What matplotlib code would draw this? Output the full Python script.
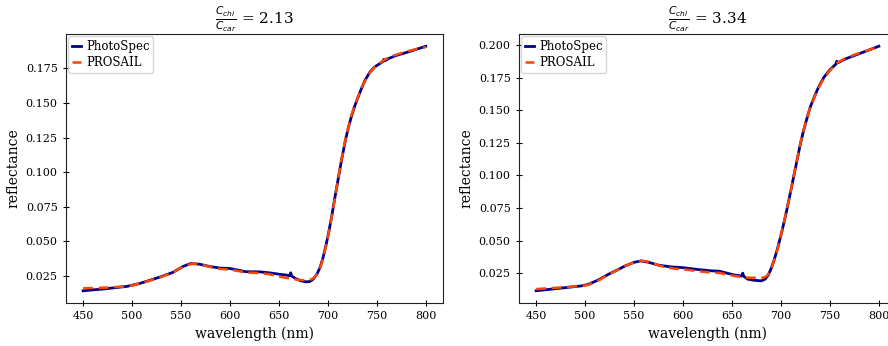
import matplotlib
matplotlib.use("Agg")
import matplotlib.pyplot as plt

plt.rcParams['font.family'] = ['DejaVu Serif']

# left panel, Cchl/Ccar = 2.13
wl_a_photo = [450, 475, 495, 508, 520, 530, 542, 552, 560, 569, 579, 590, 600, 616, 630, 640,
              650, 658, 661, 662, 663, 667, 672, 677, 681, 684, 686, 689, 692, 695, 698, 701,
              704, 707, 711, 714, 718, 721, 724, 727, 731, 734, 738, 743, 748, 754, 756, 757,
              758, 762, 770, 779, 790, 800]
refl_a_photo = [0.0142, 0.0158, 0.0174, 0.0195, 0.0222, 0.0245, 0.0276, 0.0318, 0.0339, 0.0334,
                0.0318, 0.0306, 0.0303, 0.0280, 0.0279, 0.0272, 0.0262, 0.0255, 0.0250, 0.0272,
                0.0248, 0.0231, 0.0215, 0.0207, 0.0208, 0.0220, 0.0235, 0.0265, 0.0310, 0.0380,
                0.0470, 0.0570, 0.0685, 0.0810, 0.0970, 0.1090, 0.1234, 0.1325, 0.1402, 0.1470,
                0.1546, 0.1600, 0.1666, 0.1725, 0.1762, 0.1790, 0.1800, 0.1815, 0.1805, 0.1822,
                0.1845, 0.1863, 0.1888, 0.1911]
wl_a_prosail = [450, 475, 495, 508, 520, 530, 542, 552, 562, 570, 580, 590, 600, 616, 630, 640,
                650, 660, 667, 675, 681, 684, 686, 689, 692, 695, 698, 701, 704, 707, 711, 714,
                718, 721, 724, 727, 731, 734, 738, 743, 748, 755, 762, 770, 779, 790, 800]
refl_a_prosail = [0.0160, 0.0165, 0.0174, 0.0193, 0.0220, 0.0243, 0.0275, 0.0318, 0.0339, 0.0333,
                  0.0314, 0.0300, 0.0295, 0.0275, 0.0270, 0.0262, 0.0245, 0.0232, 0.0224, 0.0218,
                  0.0220, 0.0228, 0.0238, 0.0262, 0.0305, 0.0375, 0.0465, 0.0565, 0.0680, 0.0805,
                  0.0975, 0.1095, 0.1240, 0.1330, 0.1410, 0.1475, 0.1550, 0.1605, 0.1660, 0.1720,
                  0.1760, 0.1800, 0.1830, 0.1850, 0.1870, 0.1890, 0.1905]

# right panel, Cchl/Ccar = 3.34
wl_b_photo = [450, 475, 497, 504, 514, 524, 533, 541, 550, 557, 565, 575, 588, 599, 615, 629,
              637, 645, 653, 660, 661, 662, 666, 673, 680, 684, 687, 690, 693, 696, 700, 703,
              706, 710, 713, 716, 720, 723, 727, 730, 734, 738, 744, 750, 755, 756, 757, 758,
              765, 775, 787, 800]
refl_b_photo = [0.0115, 0.0135, 0.0153, 0.0166, 0.0200, 0.0242, 0.0275, 0.0306, 0.0333, 0.0344,
                0.0333, 0.0311, 0.0298, 0.0293, 0.0278, 0.0268, 0.0265, 0.0250, 0.0235, 0.0228,
                0.0250, 0.0226, 0.0204, 0.0195, 0.0191, 0.0205, 0.0235, 0.0285, 0.0350, 0.0425,
                0.0540, 0.0635, 0.0735, 0.0880, 0.0990, 0.1100, 0.1246, 0.1340, 0.1449, 0.1525,
                0.1600, 0.1670, 0.1753, 0.1810, 0.1845, 0.1852, 0.1875, 0.1862, 0.1890, 0.1919,
                0.1953, 0.1990]
wl_b_prosail = [450, 475, 497, 504, 514, 524, 533, 541, 550, 558, 566, 576, 590, 600, 615, 629,
                637, 645, 653, 660, 667, 675, 682, 685, 688, 691, 694, 697, 700, 703, 706, 710,
                713, 716, 720, 723, 727, 730, 734, 738, 744, 750, 757, 765, 775, 787, 800]
refl_b_prosail = [0.0128, 0.0140, 0.0152, 0.0162, 0.0195, 0.0240, 0.0274, 0.0305, 0.0334, 0.0345,
                  0.0335, 0.0307, 0.0285, 0.0280, 0.0265, 0.0255, 0.0252, 0.0240, 0.0228, 0.0220,
                  0.0215, 0.0215, 0.0216, 0.0225, 0.0250, 0.0300, 0.0370, 0.0445, 0.0545, 0.0640,
                  0.0740, 0.0885, 0.0995, 0.1105, 0.1250, 0.1345, 0.1450, 0.1522, 0.1595, 0.1665,
                  0.1745, 0.1805, 0.1860, 0.1895, 0.1925, 0.1955, 0.1985]

ratios = ['2.13', '3.34']
panels = [(wl_a_photo, refl_a_photo, wl_a_prosail, refl_a_prosail),
          (wl_b_photo, refl_b_photo, wl_b_prosail, refl_b_prosail)]

fig = plt.figure(figsize=(8.88, 3.46), dpi=100)
positions = [[0.0743, 0.1243, 0.4245, 0.7774],
             [0.5845, 0.1243, 0.4245, 0.7774]]

for pos, ratio, (wp, rp, ws, rs) in zip(positions, ratios, panels):
    ax = fig.add_axes(pos)
    ax.plot(wp, rp, color='darkblue', lw=2, label='PhotoSpec')
    ax.plot(ws, rs, color='orangered', lw=1.8, ls='--', dashes=(4, 2.2), label='PROSAIL')
    ax.set_title(r'$\frac{C_{chl}}{C_{car}}$ = ' + ratio, fontsize=11)
    ax.set_xlabel('wavelength (nm)', fontsize=10)
    ax.set_ylabel('reflectance', fontsize=10)
    ax.set_xticks([450, 500, 550, 600, 650, 700, 750, 800])
    ax.tick_params(direction='inout', labelsize=8, length=5)
    for sp in ax.spines.values():
        sp.set_color('#222222')
    ax.legend(loc='upper left', fontsize=8.5, handlelength=0.8, handletextpad=0.4,
              borderaxespad=0.2, borderpad=0.3, labelspacing=0.3)

fig.savefig('out.png', dpi=100)
